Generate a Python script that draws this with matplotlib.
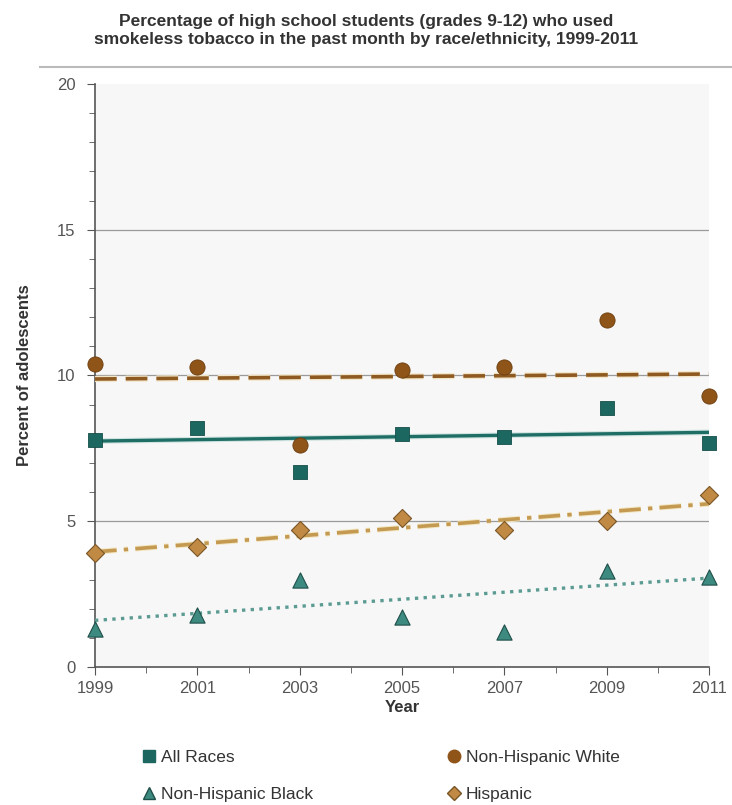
import numpy as np
import matplotlib
matplotlib.use("Agg")
import matplotlib.pyplot as plt
from matplotlib.lines import Line2D
import matplotlib.patheffects as pe

plt.rcParams['font.family'] = ['Liberation Sans', 'DejaVu Sans']

years = [1999, 2001, 2003, 2005, 2007, 2009, 2011]
all_races = [7.8, 8.2, 6.7, 8.0, 7.9, 8.9, 7.7]
nh_white = [10.4, 10.3, 7.6, 10.2, 10.3, 11.9, 9.3]
nh_black = [1.3, 1.8, 3.0, 1.7, 1.2, 3.3, 3.1]
hispanic = [3.9, 4.1, 4.7, 5.1, 4.7, 5.0, 5.9]

# trend line end values (1999, 2011)
trend_years = [1999, 2011]
all_races_trend = [7.75, 8.05]
nh_white_trend = [9.88, 10.05]
nh_black_trend = [1.6, 3.05]
hispanic_trend = [3.95, 5.6]

title = ("Percentage of high school students (grades 9-12) who used\n"
         "smokeless tobacco in the past month by race/ethnicity, 1999-2011")

fig = plt.figure(figsize=(7.32, 8.05), dpi=100)
ax = fig.add_axes([0.1298, 0.1714, 0.8388, 0.7243])
ax.set_facecolor('#f7f7f7')

x = np.array(years, dtype=float)

# trend lines
ax.plot(trend_years, nh_white_trend, color='#8e5a22', lw=2.6, ls=(0, (6, 2.5)), zorder=3,
        path_effects=[pe.Stroke(linewidth=4.5, foreground='#f3e6c8'), pe.Normal()])
ax.plot(trend_years, all_races_trend, color='#1f6e66', lw=2.4, ls='-', zorder=3,
        path_effects=[pe.Stroke(linewidth=4, foreground='#cfe3df'), pe.Normal()])
ax.plot(trend_years, hispanic_trend, color='#c49a52', lw=2.6, ls=(0, (6, 2, 1.2, 2)), zorder=3,
        path_effects=[pe.Stroke(linewidth=4, foreground='#f3e6c0'), pe.Normal()])
ax.plot(trend_years, nh_black_trend, color='#5b9b92', lw=2.4, ls=(0, (1, 1.6)), zorder=3)

# markers
ax.scatter(x, all_races, marker='s', s=90, color='#1c6760', edgecolors='#154f49', lw=0.6,
           zorder=4, clip_on=False)
ax.scatter(x, nh_white, marker='o', s=120, color='#8f5418', edgecolors='#6b3d10', lw=0.6,
           zorder=4, clip_on=False)
ax.scatter(x, hispanic, marker='D', s=85, color='#c08a45', edgecolors='#7a5525', lw=0.8,
           zorder=4, clip_on=False)
ax.scatter(x, nh_black, marker='^', s=120, color='#3d8a80', edgecolors='#1f4f4a', lw=0.8,
           zorder=4, clip_on=False)

ax.set_xlim(1999, 2011)
ax.set_ylim(0, 20)
ax.set_yticks([0, 5, 10, 15, 20])
ax.set_yticks(np.arange(0, 21, 1), minor=True)
ax.set_xticks(years)
ax.set_xticks(np.arange(2000, 2011, 2), minor=True)
for yv in [5, 10, 15]:
    ax.axhline(yv, color='#9a9a9a', lw=0.9, zorder=1)

for s in ['top', 'right']:
    ax.spines[s].set_visible(False)
for s in ['left', 'bottom']:
    ax.spines[s].set_color('#555555')
    ax.spines[s].set_linewidth(1.2)
ax.tick_params(axis='both', which='major', direction='out', length=6, color='#555555',
               labelsize=12, labelcolor='#555555')
ax.tick_params(axis='both', which='minor', direction='out', length=4, color='#555555')
ax.tick_params(axis='y', pad=8)
ax.tick_params(axis='x', pad=4)

ax.set_xlabel('Year', fontsize=12, fontweight='bold', color='#333333', labelpad=3)
ax.set_ylabel('Percent of adolescents', fontsize=12, fontweight='bold', color='#333333', labelpad=18)

fig.text(0.5, 0.962, title, ha='center', va='center', fontsize=12.5, fontweight='bold',
         color='#333333', linespacing=1.2)
fig.add_artist(Line2D([0.055, 1.0], [0.917, 0.917], color='#bbbbbb', lw=1.5,
                      transform=fig.transFigure))

# legend
handles = [
    Line2D([], [], marker='s', ls='none', color='#1c6760', markersize=8),
    Line2D([], [], marker='^', ls='none', color='#3d8a80', markeredgecolor='#1f4f4a', markersize=9),
    Line2D([], [], marker='o', ls='none', color='#8f5418', markersize=9),
    Line2D([], [], marker='D', ls='none', color='#c08a45', markeredgecolor='#7a5525', markersize=7),
]
labels = ['All Races', 'Non-Hispanic Black', 'Non-Hispanic White', 'Hispanic']
fig.legend(handles, labels, ncol=2, loc='center', bbox_to_anchor=(0.518, 0.036),
           frameon=False, fontsize=12.5, handletextpad=0.1, columnspacing=7.5,
           labelspacing=1.25, handlelength=1.2, labelcolor='#333333')

fig.savefig('out.png', dpi=100)
